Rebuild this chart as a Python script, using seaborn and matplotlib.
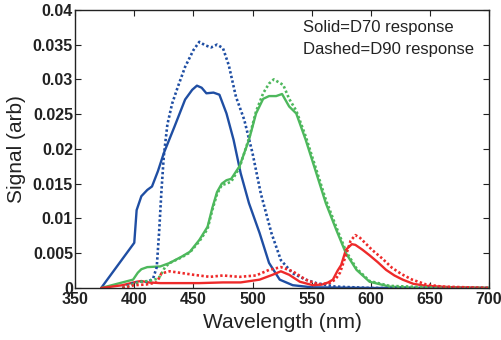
import pandas as pd
import seaborn as sns
import matplotlib
matplotlib.use('Agg')
import matplotlib.pyplot as plt

# Blue channel
blue_d70_wl = [372, 400, 402, 406, 411, 415, 420, 425, 434, 443, 449, 453,
               457, 461, 467, 472, 478, 484, 490, 497, 506, 514, 523, 534,
               550, 600, 700]
blue_d70 = [0, 0.0065, 0.0112, 0.0132, 0.0141, 0.0146, 0.0168, 0.0194,
            0.0232, 0.0271, 0.0285, 0.0291, 0.0288, 0.0280, 0.0281, 0.0278,
            0.0251, 0.0213, 0.0165, 0.0122, 0.0079, 0.0036, 0.0012, 0.0004,
            0.0001, 0, 0]
blue_d90_wl = [390, 399, 405, 412, 416, 419, 421, 423, 425, 428, 432, 437,
               443, 450, 455, 460, 465, 470, 475, 480, 486, 493, 500, 507,
               516, 524, 534, 545, 554, 570, 600, 700]
blue_d90 = [0, 0.0007, 0.0009, 0.0009, 0.0014, 0.0030, 0.0080, 0.0140,
            0.0190, 0.0235, 0.0265, 0.0290, 0.0318, 0.0342, 0.0354, 0.0349,
            0.0346, 0.0350, 0.0345, 0.0320, 0.0275, 0.0242, 0.0194, 0.0136,
            0.0079, 0.0040, 0.0021, 0.0012, 0.0007, 0.0002, 0, 0]

# Green channel
green_d70_wl = [372, 399, 403, 406, 411, 422, 430, 440, 447, 455, 462, 466,
                470, 474, 478, 482, 489, 497, 503, 509, 514, 520, 525, 531,
                537, 545, 554, 562, 571, 579, 588, 599, 616, 640, 700]
green_d70 = [0, 0.0012, 0.0022, 0.0027, 0.0030, 0.0031, 0.0036, 0.0045,
             0.0052, 0.0069, 0.0088, 0.0115, 0.0138, 0.0150, 0.0155, 0.0157,
             0.0175, 0.0213, 0.0251, 0.0272, 0.0276, 0.0276, 0.0279, 0.0261,
             0.0251, 0.0213, 0.0165, 0.0122, 0.0083, 0.0050, 0.0026, 0.0009,
             0.0002, 0, 0]
green_d90_wl = [390, 405, 412, 419, 422, 426, 430, 440, 447, 455, 462, 466,
                470, 474, 478, 482, 489, 497, 503, 509, 514, 518, 522, 526,
                531, 537, 545, 554, 562, 571, 579, 588, 599, 616, 650, 700]
green_d90 = [0, 0.0009, 0.0010, 0.0013, 0.0017, 0.0030, 0.0036, 0.0044,
             0.0051, 0.0067, 0.0085, 0.0112, 0.0135, 0.0148, 0.0150, 0.0153,
             0.0173, 0.0215, 0.0254, 0.0280, 0.0294, 0.0300, 0.0296, 0.0292,
             0.0272, 0.0255, 0.0218, 0.0170, 0.0127, 0.0087, 0.0053, 0.0028,
             0.0010, 0.0003, 0.0001, 0]

# Red channel
red_d70_wl = [372, 390, 402, 406, 412, 422, 455, 475, 490, 506, 517, 524,
              531, 540, 551, 559, 564, 568, 572, 575, 579, 584, 587, 593,
              599, 606, 613, 620, 627, 636, 647, 670, 700]
red_d70 = [0, 0.0004, 0.0009, 0.0010, 0.0008, 0.0007, 0.0007, 0.0008,
           0.0008, 0.0012, 0.0019, 0.0024, 0.0019, 0.0009, 0.0004, 0.0005,
           0.0008, 0.0012, 0.0025, 0.0033, 0.0055, 0.0063, 0.0062, 0.0055,
           0.0047, 0.0037, 0.0026, 0.0018, 0.0012, 0.0006, 0.0003, 0.0001, 0]
red_d90_wl = [390, 400, 410, 419, 423, 430, 438, 450, 464, 475, 489, 503,
              514, 524, 534, 545, 556, 565, 570, 574, 579, 583, 587, 591,
              601, 610, 618, 626, 635, 647, 660, 680, 700]
red_d90 = [0, 0.0004, 0.0005, 0.0008, 0.0021, 0.0024, 0.0022, 0.0019,
           0.0016, 0.0018, 0.0016, 0.0018, 0.0026, 0.0030, 0.0024, 0.0012,
           0.0005, 0.0007, 0.0012, 0.0022, 0.0047, 0.0068, 0.0076, 0.0072,
           0.0055, 0.0042, 0.0029, 0.0020, 0.0012, 0.0005, 0.0002, 0.0001, 0]

x_ticks = [350, 400, 450, 500, 550, 600, 650, 700]
y_ticks = [0, 0.005, 0.01, 0.015, 0.02, 0.025, 0.03, 0.035, 0.04]
y_tick_labels = ['0', '0.005', '0.01', '0.015', '0.02', '0.025', '0.03',
                 '0.035', '0.04']

BLUE = '#1f4ea3'
GREEN = '#4db85c'
RED = '#ee2a2a'


def main():
    sns.set_style('ticks')
    plt.rcParams['font.family'] = ['Liberation Sans', 'DejaVu Sans']

    fig = plt.figure(figsize=(5.01, 3.40), dpi=100)
    ax = fig.add_axes([0.150, 0.153, 0.826, 0.818])

    series = [
        (blue_d70_wl, blue_d70, BLUE, False),
        (green_d70_wl, green_d70, GREEN, False),
        (red_d70_wl, red_d70, RED, False),
        (blue_d90_wl, blue_d90, BLUE, True),
        (green_d90_wl, green_d90, GREEN, True),
        (red_d90_wl, red_d90, RED, True),
    ]
    for wl, vals, color, dashed in series:
        df = pd.DataFrame({'Wavelength': wl, 'Signal': vals})
        line_ax = sns.lineplot(x='Wavelength', y='Signal', data=df, ax=ax,
                               color=color, linewidth=1.9 if dashed else 1.7,
                               estimator=None, sort=False)
        if dashed:
            line_ax.lines[-1].set_dashes((0.9, 0.9))

    ax.set_xlim(350, 700)
    ax.set_ylim(0, 0.04)
    ax.set_xticks(x_ticks)
    ax.set_xticklabels([str(t) for t in x_ticks], fontweight='bold')
    ax.set_yticks(y_ticks)
    ax.set_yticklabels(y_tick_labels, fontweight='bold')
    ax.tick_params(direction='in', top=True, right=True, length=4,
                   width=0.8, labelsize=11.5, colors='#222222')
    ax.tick_params(axis='x', pad=3)
    ax.tick_params(axis='y', pad=1.5)
    for side in ax.spines.values():
        side.set_visible(True)
        side.set_linewidth(1.0)
        side.set_color('#222222')

    ax.set_xlabel('Wavelength (nm)', fontsize=15, labelpad=4, color='#222222')
    ax.set_ylabel('Signal (arb)', fontsize=15, labelpad=5, color='#222222')

    ax.text(0.551, 0.935, 'Solid=D70 response', transform=ax.transAxes,
            fontsize=12, va='center', ha='left', color='#222222')
    ax.text(0.551, 0.859, 'Dashed=D90 response', transform=ax.transAxes,
            fontsize=12, va='center', ha='left', color='#222222')

    fig.savefig('out.png', dpi=100)


if __name__ == '__main__':
    main()
